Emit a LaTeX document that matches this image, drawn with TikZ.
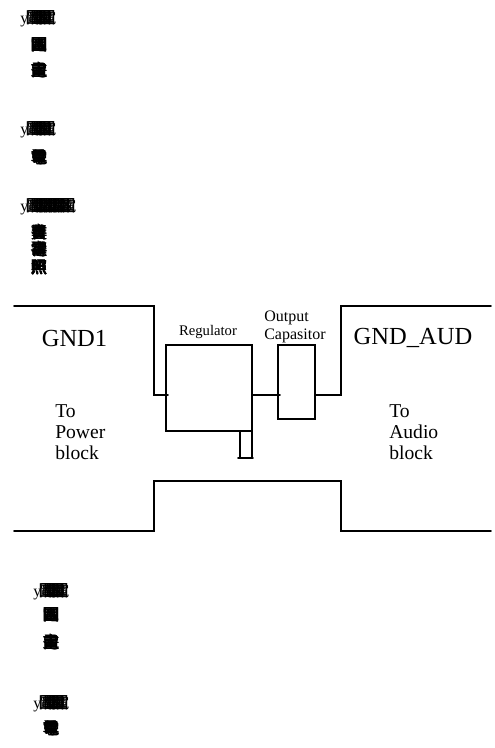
\documentclass[tikz,border=0pt]{standalone}
\usepackage{fontspec}
\usetikzlibrary{positioning}
\setmainfont{Liberation Serif}
\newfontfamily\cjk{Noto Sans CJK SC}
\newcommand{\overglyphs}[3]{{\cjk\fontsize{12}{12}\selectfont\rlap{#1}\rlap{\kern0.3pt #1}\rlap{#2}\rlap{\kern-0.3pt #2}\rlap{#3}\rlap{\kern0.4pt #3}\rlap{\kern-0.4pt\raisebox{0.3pt}{#3}}#3}}
\newcommand{\overhead}[1]{{\fontsize{12}{12}\selectfont y\kern-1.5pt\foreach \k in {#1}{\rlap{\cjk\kern\k pt 國}\rlap{\cjk\kern\k pt\kern0.5pt 電}\rlap{\cjk\kern\k pt\kern-0.4pt 圖}}}}
\begin{document}
\begin{tikzpicture}[
			x=0.75pt,
			y=-0.75pt,
			wire/.style={line width=1.2pt,draw=black,line cap=round},
			partbox/.style={rectangle,draw=black,line width=1.2pt,inner sep=0pt,outer sep=0pt},
			biglabel/.style={font=\fontsize{18.4}{20}\selectfont,inner sep=0pt},
			sidelabel/.style={font=\fontsize{14.7}{16}\selectfont,align=left,inner sep=0pt},
			smalllabel/.style={font=\fontsize{11}{12.6}\selectfont,align=left,inner sep=0pt},
			headmark/.style={inner sep=0pt,anchor=west},
			glyphmark/.style={inner sep=0pt}
			]
			\useasboundingbox (0,0) rectangle (495,748);
			
			\node[headmark,minimum height=12pt] (headone) at (20,19) {\overhead{0,3.5,7,10}};
			\node[glyphmark] (markoneA) at (39,45) {\overglyphs{國}{電}{圖}};
			\node[glyphmark] (markoneB) at (39,70) {\overglyphs{電}{南}{畫}};
			\node[headmark,minimum height=12pt] (headtwo) at (20,130) {\overhead{0,3.5,7,10}};
			\node[glyphmark] (marktwoA) at (39,157) {\overglyphs{學}{尊}{電}};
			\node[headmark,minimum height=12pt] (headthree) at (20,207) {\overhead{0,3.5,7,10.5,14,17.5,21,25}};
			\node[glyphmark] (markthreeA) at (39,232) {\overglyphs{獎}{賣}{書}};
			\node[glyphmark] (markthreeB) at (39,249) {\overglyphs{禮}{電}{壽}};
			\node[glyphmark] (markthreeC) at (39,267) {\overglyphs{照}{無}{照}};
			\node[headmark,minimum height=12pt] (headfour) at (33,592) {\overhead{0,3.5,7,10}};
			\node[glyphmark] (markfourA) at (51,615) {\overglyphs{國}{電}{圖}};
			\node[glyphmark] (markfourB) at (51,642) {\overglyphs{電}{南}{畫}};
			\node[headmark,minimum height=12pt] (headfive) at (33,704) {\overhead{0,3.5,7,10}};
			\node[glyphmark] (markfiveA) at (51,728) {\overglyphs{學}{尊}{電}};
			
			\node[partbox,minimum width=64.5pt,minimum height=64.5pt] (regulator) at (209,388) {};
			\node[partbox,minimum width=27.75pt,minimum height=55.5pt] (capasitor) at (296.5,382) {};
			\coordinate (gndtopl) at (14,306);
			\coordinate (gndtopm) at (154,306);
			\coordinate (gndinl) at (154,395);
			\coordinate (gndtopn) at (341,306);
			\coordinate (gndtopr) at (491,306);
			\coordinate (gndinr) at (341,395);
			\coordinate (botl) at (14,531);
			\coordinate (botm) at (154,531);
			\coordinate (botn) at (154,481);
			\coordinate (boto) at (341,481);
			\coordinate (botp) at (341,531);
			\coordinate (botr) at (491,531);
			\coordinate (tabtl) at (240,431);
			\coordinate (tabbl) at (240,458);
			
			\draw[wire] (gndtopl) -- (gndtopm) -- (gndinl) -- (168,395);
			\draw[wire] (regulator.east |- gndinl) -- (280,395);
			\draw[wire] (capasitor.east |- gndinl) -- (gndinr) -- (gndtopn) -- (gndtopr);
			\draw[wire] (botl) -- (botm) -- (botn) -- (boto) -- (botp) -- (botr);
			\draw[wire] (tabtl) -- (tabbl);
			\draw[wire] (regulator.south east) -- (regulator.south east |- tabbl);
			\draw[wire] (238,458) -- (253,458);
			
			\node[biglabel] (gndone) at (74.5,338) {GND1};
			\node[biglabel] (gndaud) at (413,338) {GND\_AUD};
			\node[sidelabel,anchor=north west] (topower) at (55,404) {To\\Power\\block};
			\node[sidelabel,anchor=north west] (toaudio) at (389,404) {To\\Audio\\block};
			\node[smalllabel] (reglabel) at (208,332) {Regulator};
			\node[smalllabel,font=\fontsize{12}{13}\selectfont,anchor=north west] (caplabel) at (264,311) {Output\\Capasitor};
		\end{tikzpicture}
\end{document}
